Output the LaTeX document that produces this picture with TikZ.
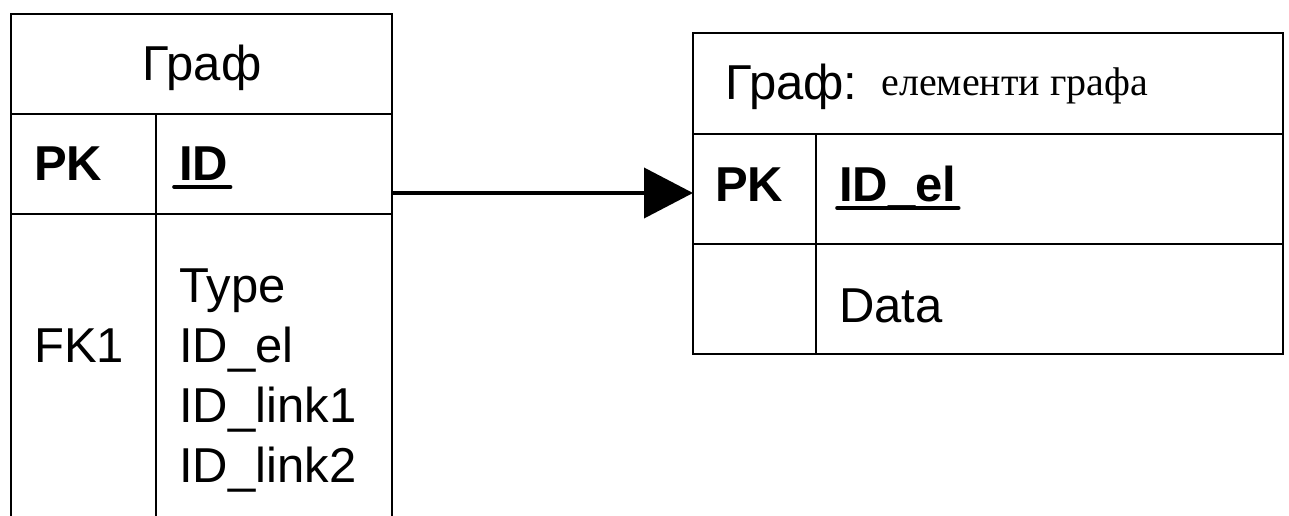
\documentclass[tikz,border=0pt]{standalone}
\usepackage{fontspec}
\setmainfont{Liberation Sans}
\newfontfamily\serifcyr{Liberation Serif}
\usetikzlibrary{arrows.meta}

\begin{document}
\begin{tikzpicture}[x=1pt,y=-1pt,line width=2.6pt,
  cell/.style={draw=black,rectangle,anchor=north west,inner sep=0pt,outer sep=0pt},
  txt/.style={anchor=base west,inner sep=0pt,font=\fontsize{49}{60}\selectfont},
  keytxt/.style={txt,font=\fontsize{49}{60}\selectfont\bfseries},
  uline/.style={line width=3.6pt,line cap=round},
  link/.style={line width=4pt,-{Triangle[length=49pt,width=50pt]}}]
\useasboundingbox (0,0) rectangle (1289,516);

% table "Граф" (its lower part runs past the page edge)
\node[cell,minimum width=381pt,minimum height=100pt] (gtitle) at (11,14) {};
\node[cell,minimum width=145pt,minimum height=100pt] (gpkkey) at (11,114) {};
\node[cell,minimum width=236pt,minimum height=100pt] (gpkfld) at (156,114) {};
\node[cell,minimum width=145pt,minimum height=330pt] (gfkkey) at (11,214) {};
\node[cell,minimum width=236pt,minimum height=330pt] (gfkfld) at (156,214) {};

\node[txt,anchor=base] (gname) at (202,81) {Граф};
\node[keytxt] (gpk) at (33,180) {PK};
\node[keytxt] (gid) at (178,180) {ID};
\draw[uline] ([xshift=-4pt,yshift=-7pt]gid.base west) -- ([xshift=1pt,yshift=-7pt]gid.base east);
\node[txt] (gfk) at (33,362) {FK1};
\node[txt] (gf1) at (178,302) {Type};
\node[txt] (gf2) at (178,362) {ID\_el};
\node[txt] (gf3) at (178,422) {ID\_link1};
\node[txt] (gf4) at (178,482) {ID\_link2};

% table "Граф: елементи графа"
\node[cell,minimum width=590pt,minimum height=101pt] (etitle) at (693,33) {};
\node[cell,minimum width=123pt,minimum height=110pt] (epkkey) at (693,134) {};
\node[cell,minimum width=467pt,minimum height=110pt] (epkfld) at (816,134) {};
\node[cell,minimum width=123pt,minimum height=110pt] (edkey) at (693,244) {};
\node[cell,minimum width=467pt,minimum height=110pt] (edfld) at (816,244) {};

\node[txt] (ename) at (724,100) {Граф:};
\node[txt,font=\fontsize{40}{48}\serifcyr] (esub) at (880,96) {елементи графа};
\node[keytxt] (epk) at (714,201) {PK};
\node[keytxt] (eid) at (838,201) {ID\_el};
\draw[uline] ([xshift=-1pt,yshift=-7pt]eid.base west) -- ([xshift=1pt,yshift=-7pt]eid.base east);
\node[txt] (edata) at (838,322) {Data};

% reference from ID to ID_el
\coordinate (src) at (gtitle.east |- 0,193);
\coordinate (dst) at (etitle.west |- 0,193);
\draw[link] (src) -- (dst);
\end{tikzpicture}
\end{document}
